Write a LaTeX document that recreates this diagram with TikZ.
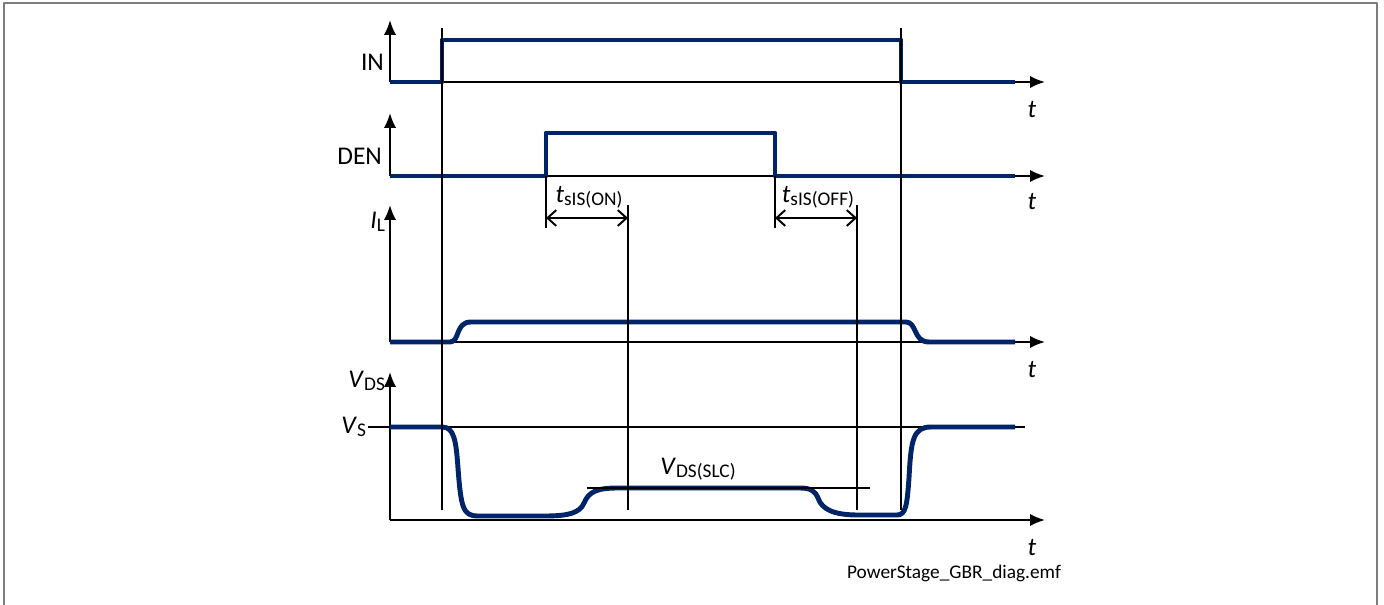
\documentclass[tikz,border=0pt]{standalone}
\usepackage{fontspec}
\setmainfont{Carlito}
\usetikzlibrary{arrows.meta}
\definecolor{tracenavy}{RGB}{0,36,104}
\definecolor{framegray}{RGB}{125,125,125}
\newcommand{\lsub}[1]{\raisebox{-0.25ex}{\fontsize{11}{13}\selectfont #1}}

\begin{document}
\begin{tikzpicture}[x=0.02cm, y=-0.02cm, line join=round,
  axis/.style={black, line width=1.1pt, -{Latex[length=8.5pt,width=7pt]}},
  trace/.style={tracenavy, line width=2.8pt},
  marker/.style={black, line width=1.1pt},
  dimarrow/.style={black, line width=1.1pt, {Straight Barb[length=5pt,width=9pt]}-{Straight Barb[length=5pt,width=9pt]}},
  lbl/.style={font=\fontsize{14.5}{17}\selectfont, inner sep=1pt}]

\useasboundingbox (0,0) rectangle (1384,605);

% outer frame
\draw[framegray, line width=1.3pt] (4,610) -- (4,3) -- (1377,3) -- (1377,610);

%==================================================
% Axes
%==================================================
\coordinate (O1) at (390,82);
\coordinate (O2) at (390,176);
\coordinate (O3) at (390,342);
\coordinate (O4) at (390,520);

\draw[axis] (O1) -- (390,20);
\draw[axis] (O1) -- (1045,82);
\draw[axis] (O2) -- (390,113);
\draw[axis] (O2) -- (1045,176);
\draw[axis] (O3) -- (390,205);
\draw[axis] (O3) -- (1045,342);
\draw[axis] (O4) -- (390,372);
\draw[axis] (O4) -- (1045,520);

% V_S level
\coordinate (VSl) at (368,427);
\coordinate (VSr) at (1025,427);
\draw[marker] (VSl) -- (VSr);

% Axis labels
\node[lbl, anchor=east] (inlbl)  at (386,62)  {IN};
\node[lbl, anchor=east] (denlbl) at (384,156) {DEN};
\node[lbl, anchor=east] (illbl)  at (387,222) {\textit{I}\lsub{L}};
\node[lbl, anchor=east] (vdslbl) at (387,381) {\textit{V}\lsub{DS}};
\node[lbl, anchor=east] (vslbl)  at (368,427) {\textit{V}\lsub{S}};

\foreach \y/\n in {110/t1, 202/t2, 370/t3, 548/t4}{
  \node[lbl] (\n) at (1032,\y) {\textit{t}};
}

%==================================================
% Signal traces
%==================================================
% IN
\draw[trace] (O1) -- (442,82) -- (442,40) -- (901,40) -- (901,82) -- (1015,82);

% DEN
\draw[trace] (O2) -- (546,176) -- (546,133) -- (775,133) -- (775,176) -- (1015,176);

% I_L
\draw[trace] (O3) -- (450,342)
  .. controls (460,342) and (455,322) .. (471,322)
  -- (906,322)
  .. controls (917,322) and (913,342) .. (929,342)
  -- (1015,342);

% V_DS
\draw[trace] (390,427) -- (442,427)
  .. controls (454,427) and (456,440) .. (458,468)
  .. controls (461,508) and (463,516) .. (478,516)
  -- (545,516)
  .. controls (568,516) and (580,513) .. (584,503)
  .. controls (589,491) and (598,488) .. (618,488)
  -- (800,488)
  .. controls (811,488) and (815,491) .. (818,498)
  .. controls (822,510) and (835,515) .. (858,515)
  -- (897,515)
  .. controls (906,515) and (907,505) .. (909,478)
  .. controls (911,440) and (913,427) .. (931,427)
  -- (1015,427);

%==================================================
% Timing markers
%==================================================
\coordinate (INon)   at (442,28);
\coordinate (INoff)  at (901,28);
\coordinate (DENon)  at (546,176);
\coordinate (DENoff) at (775,176);
\coordinate (SISon)  at (628,205);
\coordinate (SISoff) at (857,205);

\draw[marker] (INon)  -- (442,510);
\draw[marker] (INoff) -- (901,510);
\draw[marker] (DENon)  -- (546,228);
\draw[marker] (DENoff) -- (775,228);
\draw[marker] (SISon)  -- (628,510);
\draw[marker] (SISoff) -- (857,510);

% delay arrows
\coordinate (Aon1)  at (546,218);
\coordinate (Aon2)  at (628,218);
\coordinate (Aoff1) at (775,218);
\coordinate (Aoff2) at (857,218);
\draw[dimarrow] (Aon1) -- (Aon2);
\draw[dimarrow] (Aoff1) -- (Aoff2);

\node[lbl] (sison)  at (589,197) {\textit{t}\lsub{sIS(ON)}};
\node[lbl] (sisoff) at (818,197) {\textit{t}\lsub{sIS(OFF)}};

% V_DS(SLC) level
\coordinate (SLCl) at (587,488);
\coordinate (SLCr) at (870,488);
\draw[marker] (SLCl) -- (SLCr);
\node[lbl] (slclbl) at (698,469) {\textit{V}\lsub{DS(SLC)}};

% file name
\node[font=\fontsize{11}{13}\selectfont] (fname) at (954,573) {PowerStage\_GBR\_diag.emf};

\end{tikzpicture}
\end{document}
